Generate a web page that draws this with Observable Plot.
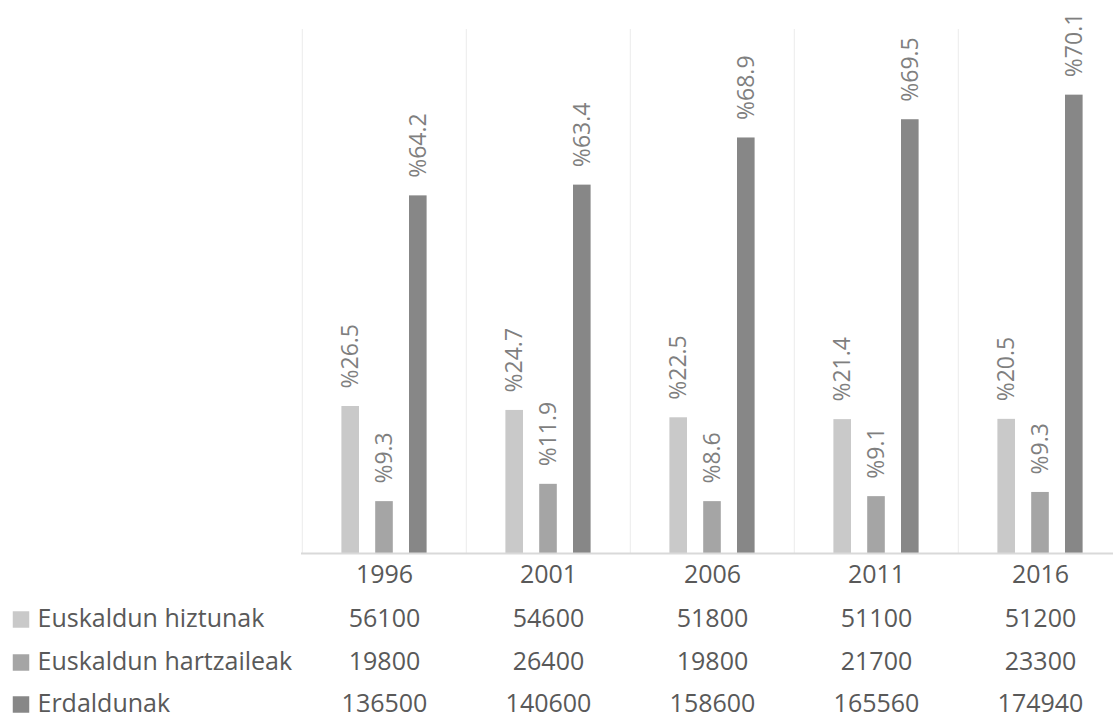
<!DOCTYPE html>
<html>
<head>
<meta charset="utf-8">
<script src="https://cdn.jsdelivr.net/npm/d3@7"></script>
<script src="https://cdn.jsdelivr.net/npm/@observablehq/plot@0.6"></script>
<style>
  html, body { margin: 0; padding: 0; background: #ffffff; overflow: hidden; }
</style>
</head>
<body>
<div id="chart"></div>
<script>
// ---- data ----
const years = ["1996", "2001", "2006", "2011", "2016"];
const seriesNames = ["Euskaldun hiztunak", "Euskaldun hartzaileak", "Erdaldunak"];
const hiztunak = [56100, 54600, 51800, 51100, 51200];
const hartzaileak = [19800, 26400, 19800, 21700, 23300];
const erdaldunak = [136500, 140600, 158600, 165560, 174940];
const pctHiztunak = [26.5, 24.7, 22.5, 21.4, 20.5];
const pctHartzaileak = [9.3, 11.9, 8.6, 9.1, 9.3];
const pctErdaldunak = [64.2, 63.4, 68.9, 69.5, 70.1];

const seriesValues = [hiztunak, hartzaileak, erdaldunak];
const seriesPct = [pctHiztunak, pctHartzaileak, pctErdaldunak];
const colors = ["#c9c9c9", "#a5a5a5", "#878787"];

// ---- layout ----
const W = 1113, H = 719;
const mL = 301, mR = -10, mT = 29, mB = 166;
const bandW = (W - mR - mL) / years.length;
const step = 33.8;
const barW = 18;
const inset = (bandW - barW) / 2;
const rowDy = [65, 108, 150];
const textColor = "#595959";

const marks = [];
// vertical gridlines at category boundaries
marks.push(Plot.ruleX(years, {x: d => d, dx: -bandW / 2, stroke: "#ebebeb", strokeWidth: 1}));

seriesValues.forEach((vals, s) => {
  const data = years.map((y, i) => ({year: y, value: vals[i], pct: seriesPct[s][i]}));
  const off = (s - 1) * step;
  marks.push(Plot.barY(data, {
    x: "year", y: "value", fill: colors[s], dx: off,
    insetLeft: inset, insetRight: inset
  }));
  marks.push(Plot.text(data, {
    x: "year", y: "value", text: d => "%" + d.pct.toFixed(1),
    rotate: -90, textAnchor: "start", dx: off, dy: -18,
    fill: "#7f7f7f", fontSize: 23
  }));
});

// baseline
marks.push(Plot.ruleY([0], {stroke: "#d9d9d9", strokeWidth: 2}));

// year labels
marks.push(Plot.text(years, {
  x: d => d, text: d => d, frameAnchor: "bottom", lineAnchor: "middle", dy: 21,
  fill: textColor, fontSize: 25
}));

// data table rows + legend
seriesValues.forEach((vals, s) => {
  marks.push(Plot.text(years, {
    x: d => d, text: (d, i) => String(vals[i]), frameAnchor: "bottom", lineAnchor: "middle",
    dy: rowDy[s], fill: textColor, fontSize: 25
  }));
  marks.push(Plot.text([seriesNames[s]], {
    text: d => d, frameAnchor: "bottom-left", textAnchor: "start", lineAnchor: "middle",
    dx: 37 - mL, dy: rowDy[s], fill: textColor, fontSize: 25
  }));
  marks.push(Plot.dot([seriesNames[s]], {
    frameAnchor: "bottom-left", dx: 20.5 - mL, dy: rowDy[s] + 1,
    symbol: "square", r: 9.3, fill: colors[s], stroke: "none"
  }));
});

const chart = Plot.plot({
  width: W,
  height: H,
  marginLeft: mL,
  marginRight: mR,
  marginTop: mT,
  marginBottom: mB,
  style: {fontFamily: "'Open Sans', sans-serif", background: "#ffffff", maxWidth: "none"},
  x: {type: "band", domain: years, padding: 0, axis: null},
  y: {domain: [0, 200000], axis: null},
  marks
});
document.getElementById("chart").appendChild(chart);
</script>
</body>
</html>
